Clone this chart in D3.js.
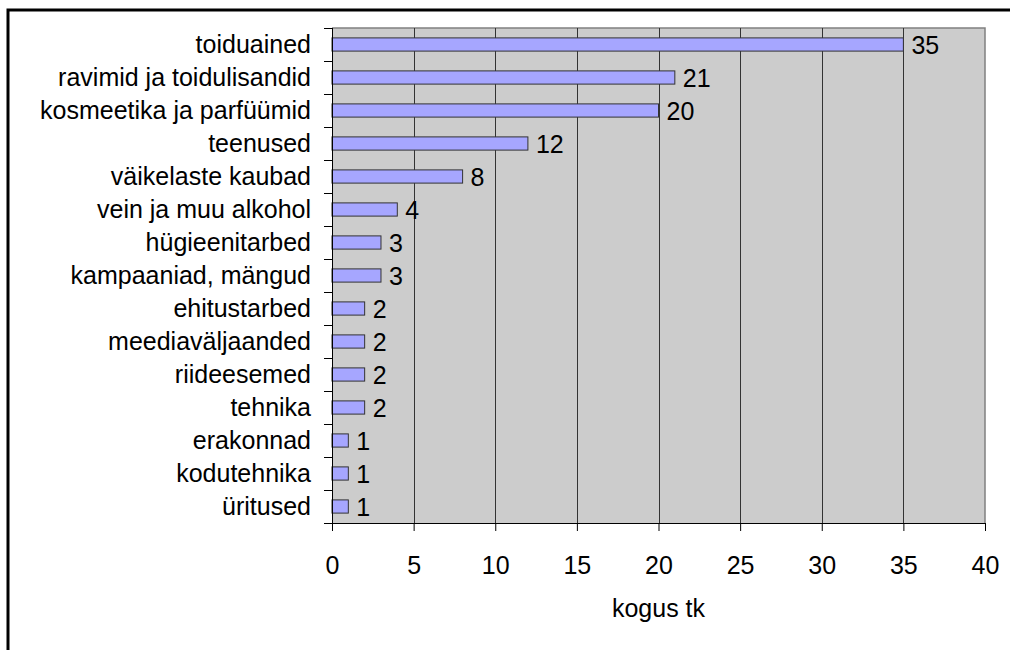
<!DOCTYPE html>
<html><head><meta charset="utf-8">
<script src="https://cdn.jsdelivr.net/npm/d3@7"></script>
<style>body{margin:0;background:#fff;} text{font-family:"Liberation Sans",Arial,sans-serif;}</style>
</head><body>
<svg id="c" width="1010" height="650"></svg>
<script>
const categories = ["toiduained","ravimid ja toidulisandid","kosmeetika ja parfüümid","teenused","väikelaste kaubad","vein ja muu alkohol","hügieenitarbed","kampaaniad, mängud","ehitustarbed","meediaväljaanded","riideesemed","tehnika","erakonnad","kodutehnika","üritused"];
const values = [35,21,20,12,8,4,3,3,2,2,2,2,1,1,1];
const xTicks = [0,5,10,15,20,25,30,35,40];
const xTitle = "kogus tk";

const FS = 25;
const svg = d3.select("#c");
const L = 332, R = 985, T = 28, B = 523;
// outer frame
svg.append("rect").attr("x",8).attr("y",10).attr("width",1010).attr("height",700)
  .attr("fill","none").attr("stroke","#000").attr("stroke-width",3);

const x = d3.scaleLinear().domain([0,40]).range([L,R]);
const y = d3.scaleBand().domain(categories).range([T,B]).paddingInner(0.6).paddingOuter(0.3);
const yb = d3.scaleBand().domain(categories).range([T,B]);

svg.append("rect").attr("x",L).attr("y",T).attr("width",R-L).attr("height",B-T).attr("fill","#CCCCCC");
svg.append("path").attr("d",`M${L},${T}H${R}V${B}`).attr("fill","none").attr("stroke","#808080").attr("stroke-width",1.5);
// gridlines
svg.append("g").selectAll("line").data(xTicks.filter(t=>t>0&&t<40)).join("line")
  .attr("x1",d=>Math.round(x(d))+0.5).attr("x2",d=>Math.round(x(d))+0.5).attr("y1",T).attr("y2",B)
  .attr("stroke","#333").attr("stroke-width",1);

// bars
svg.append("g").selectAll("rect").data(values).join("rect")
  .attr("x",L).attr("y",(d,i)=>y(categories[i]))
  .attr("width",d=>x(d)-L).attr("height",y.bandwidth())
  .attr("fill","#A6A6FF").attr("stroke","#333").attr("stroke-width",1);

// value labels
svg.append("g").selectAll("text").data(values).join("text")
  .attr("x",d=>x(d)+8).attr("y",(d,i)=>y(categories[i])+y.bandwidth()/2)
  .attr("dy","0.36em").attr("font-size",FS).text(d=>d);

// y axis
const yAxis = d3.axisLeft(yb).tickSize(0).tickPadding(21);
const gy = svg.append("g").attr("transform",`translate(${L},0)`).call(yAxis);
gy.select(".domain").remove();
gy.selectAll("text").attr("font-size",FS).attr("font-family","Liberation Sans, Arial, sans-serif").attr("fill","#000");
const bounds = categories.map(c=>yb(c)).concat([B]);
svg.append("g").selectAll("line").data(bounds).join("line")
  .attr("x1",L-8).attr("x2",L).attr("y1",d=>Math.round(d)+0.5).attr("y2",d=>Math.round(d)+0.5)
  .attr("stroke","#000");
svg.append("line").attr("x1",L+0.5).attr("x2",L+0.5).attr("y1",T).attr("y2",B).attr("stroke","#000");

// x axis
const xAxis = d3.axisBottom(x).tickValues(xTicks).tickSize(8).tickPadding(25);
const gx = svg.append("g").attr("transform",`translate(0,${B})`).call(xAxis);
gx.select(".domain").attr("d",`M${L},0.5H${R}`).attr("stroke","#000");
gx.selectAll("line").attr("stroke","#000");
gx.selectAll("text").attr("font-size",FS).attr("font-family","Liberation Sans, Arial, sans-serif").attr("fill","#000");

svg.append("text").attr("x",(L+R)/2).attr("y",617).attr("text-anchor","middle")
  .attr("font-size",FS).text(xTitle);
</script></body></html>
